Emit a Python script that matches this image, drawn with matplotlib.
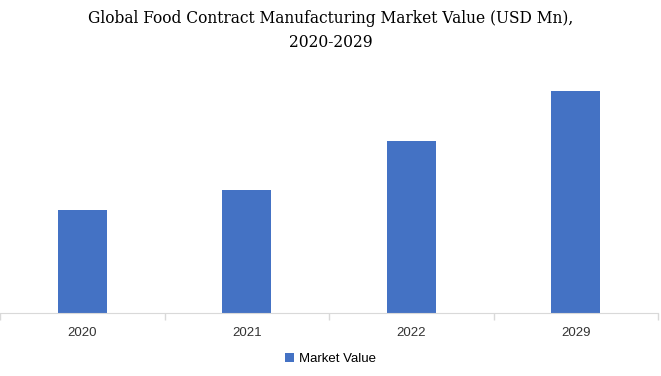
import matplotlib.pyplot as plt
import numpy as np

years = ['2020', '2021', '2022', '2029']
market_value = [103, 123, 172, 222]
series_name = 'Market Value'

fig = plt.figure(figsize=(6.61, 3.76), dpi=100)
ax = fig.add_axes([0.0, 0.1676, 0.9955, 0.665])

x = np.arange(len(years))
ax.bar(x, market_value, width=0.3, color='#4472C4', label=series_name)
ax.set_xlim(-0.5, len(years) - 0.5)
ax.set_ylim(0, 250)

# category labels, tick marks sit between categories
ax.set_xticks(x)
ax.set_xticklabels(years, fontsize=9.5, color='#333333', family='Liberation Sans')
ax.tick_params(axis='x', which='major', length=0, pad=10)
ax.set_xticks(np.arange(-0.5, len(years)), minor=True)
ax.tick_params(axis='x', which='minor', length=5, color='#d9d9d9', width=1)
ax.set_yticks([])
for s in ['top', 'right', 'left']:
    ax.spines[s].set_visible(False)
ax.spines['bottom'].set_color('#d9d9d9')

fig.text(0.5, 0.918, 'Global Food Contract Manufacturing Market Value (USD Mn),\n2020-2029',
         ha='center', va='center', fontsize=11.2, family='DejaVu Serif', linespacing=1.55)

fig.legend(loc='center', bbox_to_anchor=(0.5, 0.045), frameon=False,
           handlelength=0.7, handleheight=0.7, handletextpad=0.4,
           prop={'family': 'Liberation Sans', 'size': 9.5})

fig.savefig('out.png', dpi=100)
